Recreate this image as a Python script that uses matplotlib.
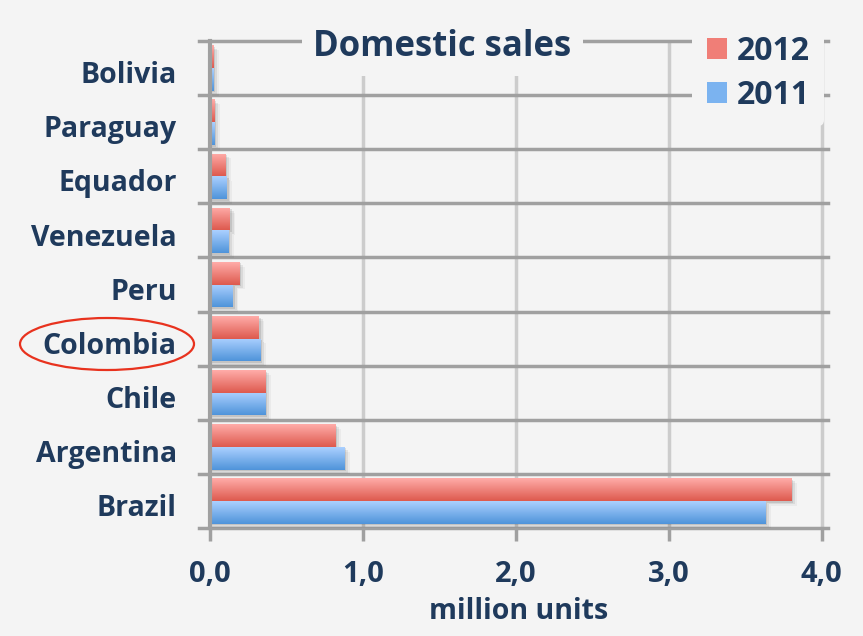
import numpy as np
import matplotlib.pyplot as plt
import matplotlib.transforms as mtransforms
from matplotlib.colors import LinearSegmentedColormap
from matplotlib.patches import Ellipse, Rectangle

# domestic sales, million units
countries = ['Brazil', 'Argentina', 'Chile', 'Colombia', 'Peru',
             'Venezuela', 'Equador', 'Paraguay', 'Bolivia']
sales_2012 = [3.80, 0.82, 0.36, 0.32, 0.19, 0.13, 0.10, 0.03, 0.02]
sales_2011 = [3.63, 0.88, 0.36, 0.33, 0.15, 0.12, 0.11, 0.03, 0.02]
xticks = [0, 1, 2, 3, 4]
xticklabels = ['0,0', '1,0', '2,0', '3,0', '4,0']

bg = '#F4F4F4'
navy = '#1F3A5C'
plt.rcParams['font.family'] = ['Open Sans', 'DejaVu Sans']
plt.rcParams['font.weight'] = 'bold'

fig = plt.figure(figsize=(8.63, 6.36), dpi=100, facecolor=bg)
ax = fig.add_axes([0.2433, 0.1698, 0.7161, 0.7657], facecolor=bg)

red_cmap = LinearSegmentedColormap.from_list('red', ['#FFACA9', '#DE5A4E'])
blue_cmap = LinearSegmentedColormap.from_list('blue', ['#ABD0FF', '#4F94DA'])
grad = np.linspace(0, 1, 64).reshape(-1, 1)

y = np.arange(len(countries))
h = 0.42
bars_r = ax.barh(y + h / 2, sales_2012, height=h, color='none', zorder=3)
bars_b = ax.barh(y - h / 2, sales_2011, height=h, color='none', zorder=3)

for bars, cmap in ((bars_r, red_cmap), (bars_b, blue_cmap)):
    for bar in bars:
        x0, y0 = bar.get_x(), bar.get_y()
        w, bh = bar.get_width(), bar.get_height()
        # soft drop shadow
        for k, a in enumerate([0.10, 0.07, 0.04]):
            dx = 0.012 * (k + 1)
            ax.add_patch(Rectangle((x0, y0 - 0.03 * (k + 1)), w + dx, bh,
                                   facecolor='#000000', alpha=a,
                                   edgecolor='none', zorder=2))
        im = ax.imshow(grad, extent=[x0, x0 + w, y0, y0 + bh], cmap=cmap,
                       aspect='auto', origin='upper', zorder=3)
        im.set_clip_path(bar)

ax.set_xlim(0, 4.04)
ax.set_ylim(-0.5, len(countries) - 0.5)

# gridlines
for xv in xticks[1:]:
    ax.axvline(xv, color='#CCCCCC', lw=2.5, zorder=1)
for k in range(len(countries) + 1):
    ax.axhline(k - 0.5, xmin=-0.017, color='#A0A0A0', lw=2.5, zorder=1,
               clip_on=False)

for s in ['top', 'right', 'bottom']:
    ax.spines[s].set_visible(False)
ax.spines['left'].set_color('#A0A0A0')
ax.spines['left'].set_linewidth(3)
ax.spines['left'].set_zorder(4)

ax.set_yticks(y)
ax.set_yticklabels(countries, fontsize=20.5, color=navy, fontweight='bold')
ax.tick_params(axis='y', length=0, pad=24)
shift = mtransforms.ScaledTranslation(0, -3 / 72, fig.dpi_scale_trans)
for lbl in ax.get_yticklabels():
    lbl.set_transform(lbl.get_transform() + shift)

ax.set_xticks(xticks)
ax.set_xticklabels(xticklabels, fontsize=21, color=navy, fontweight='bold')
ax.tick_params(axis='x', length=9, width=2.5, color='#A0A0A0', pad=14)
ax.set_xlabel('million units', fontsize=20.5, color=navy, fontweight='bold',
              labelpad=6)

ax.text(0.376, 0.988, 'Domestic sales', transform=ax.transAxes, ha='center',
        va='center', fontsize=25, color=navy, fontweight='bold', zorder=10,
        bbox=dict(facecolor=bg, edgecolor='none', pad=8))

handles = [Rectangle((0, 0), 1, 1, facecolor='#F07E77'),
           Rectangle((0, 0), 1, 1, facecolor='#7BB3F0')]
leg = fig.legend(handles, ['2012', '2011'], loc='upper left',
                 bbox_to_anchor=(0.802, 0.968), frameon=True, facecolor=bg,
                 edgecolor='none', framealpha=1, fontsize=23,
                 handlelength=0.65, handleheight=0.65, handletextpad=0.3,
                 labelspacing=0.35, borderpad=0.45, borderaxespad=0)
for t in leg.get_texts():
    t.set_color(navy)
    t.set_fontweight('bold')
leg.set_zorder(10)

# highlight ring around Colombia
fig.patches.append(Ellipse((107 / 863, 1 - 344 / 636), 174 / 863, 52 / 636,
                           transform=fig.transFigure, fill=False,
                           edgecolor='#E8321E', lw=1.6, zorder=10))

fig.savefig('out.png', dpi=100, facecolor=bg)
